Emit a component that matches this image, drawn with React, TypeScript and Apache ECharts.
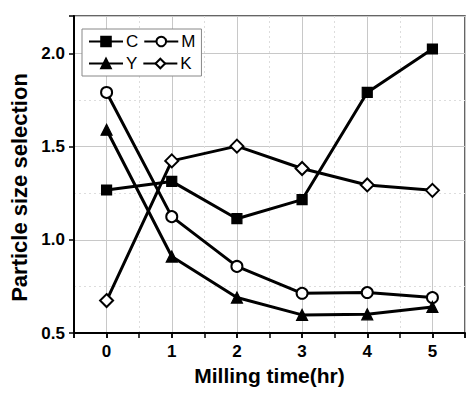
import React, { useEffect, useRef } from "react";
import * as echarts from "echarts";

const millingTime = [0, 1, 2, 3, 4, 5];
const seriesC = [1.267, 1.313, 1.113, 1.215, 1.79, 2.023];
const seriesM = [1.79, 1.124, 0.857, 0.713, 0.717, 0.69];
const seriesY = [1.59, 0.91, 0.69, 0.597, 0.6, 0.64];
const seriesK = [0.674, 1.423, 1.502, 1.382, 1.294, 1.265];

const FONT = "Liberation Sans, Arial, sans-serif";

export default function App() {
  const ref = useRef<HTMLDivElement>(null);
  useEffect(() => {
    if (!ref.current) return;
    const chart = echarts.init(ref.current, null, { renderer: "svg" });
    const mk = (name: string, data: number[], symbol: string, size: number) => ({
      name,
      type: "line",
      xAxisIndex: 1,
      yAxisIndex: 1,
      data: millingTime.map((t, i) => [t, data[i]]),
      symbol,
      symbolSize: size,
      showAllSymbol: true,
      lineStyle: { color: "#000", width: 3 },
      itemStyle: { color: "#000", borderColor: "#000", borderWidth: 1.2 },
    });
    chart.setOption({
      animation: false,
      backgroundColor: "#fff",
      textStyle: { fontFamily: FONT },
      grid: {
        left: 69,
        right: 11,
        top: 16,
        bottom: 73,
        show: true,
        borderColor: "#333",
        borderWidth: 1.5,
      },
      legend: {
        left: 82,
        top: 29,
        width: 112,
        padding: [4, 6, 4, 6],
        itemWidth: 34,
        itemHeight: 12,
        itemGap: 5,
        borderColor: "#888",
        borderWidth: 1,
        backgroundColor: "#fff",
        textStyle: { fontSize: 17, color: "#000", fontFamily: FONT, padding: [0, 0, 0, -2] },
        data: ["C", "M", "Y", "K"],
      },
      xAxis: [
        {
          type: "value",
          min: -0.5,
          max: 5.5,
          interval: 0.5,
          position: "bottom",
          axisLine: { show: false, onZero: false },
          axisTick: { show: true, length: 5, lineStyle: { color: "#000", width: 1.5 } },
          axisLabel: { show: false },
          splitLine: { show: true, lineStyle: { color: "#ddd", type: [2, 3], width: 1 } },
        },
        {
          type: "value",
          min: -0.5,
          max: 5.5,
          position: "bottom",
          axisLine: { show: true, onZero: false, lineStyle: { color: "#000", width: 2 } },
          axisTick: { show: true, length: 5, lineStyle: { color: "#000", width: 1.5 } },
          axisLabel: {
            fontSize: 17,
            fontWeight: "bold",
            color: "#000",
            margin: 10,
            fontFamily: FONT,
            formatter: (v: number) => (Number.isInteger(v) ? String(v) : ""),
          },
          splitLine: { show: true, lineStyle: { color: "#c8c8c8", width: 1 } },
          name: "Milling time(hr)",
          nameLocation: "middle",
          nameGap: 32,
          nameTextStyle: { fontSize: 21, fontWeight: "bold", color: "#000", fontFamily: FONT },
        },
      ],
      yAxis: [
        {
          type: "value",
          min: 0.5,
          max: 2.2,
          interval: 0.25,
          position: "left",
          axisLine: { show: false, onZero: false },
          axisTick: { show: false },
          axisLabel: { show: false },
          splitLine: { show: true, lineStyle: { color: "#ddd", type: [2, 3], width: 1 } },
        },
        {
          type: "value",
          min: 0.5,
          max: 2.2,
          interval: 0.5,
          position: "left",
          axisLine: { show: true, onZero: false, lineStyle: { color: "#000", width: 2 } },
          axisTick: { show: true, length: 5, lineStyle: { color: "#000", width: 1.5 } },
          axisLabel: {
            fontSize: 17,
            fontWeight: "bold",
            color: "#000",
            margin: 9,
            fontFamily: FONT,
            formatter: (v: number) =>
              Math.abs(v * 2 - Math.round(v * 2)) < 1e-6 ? v.toFixed(1) : "",
          },
          splitLine: { show: true, lineStyle: { color: "#c8c8c8", width: 1 } },
          name: "Particle size selection",
          nameLocation: "middle",
          nameGap: 44,
          nameTextStyle: {
            fontSize: 22,
            fontWeight: "bold",
            color: "#000",
            fontFamily: FONT,
            padding: [0, 26, 0, 0],
          },
        },
      ],
      series: [
        mk("C", seriesC, "rect", 10),
        mk("M", seriesM, "emptyCircle", 11),
        mk("Y", seriesY, "triangle", 11),
        mk("K", seriesK, "emptyDiamond", 13),
      ],
    });
    return () => chart.dispose();
  }, []);
  return (
    <div
      ref={ref}
      style={{ position: "fixed", left: 0, top: 0, width: 476, height: 406 }}
    />
  );
}
